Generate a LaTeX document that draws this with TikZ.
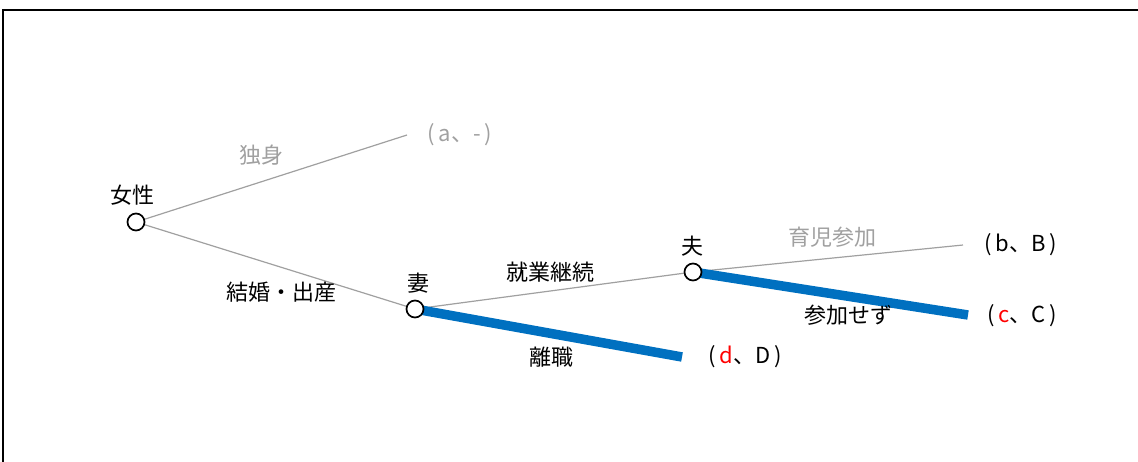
\documentclass[tikz,border=0pt]{standalone}
\usepackage{fontspec}
\setmainfont{Noto Sans CJK JP}
\usetikzlibrary{backgrounds}
\definecolor{myblue}{RGB}{0,112,192}
\definecolor{lgray}{RGB}{160,160,160}
\definecolor{tgray}{RGB}{160,160,160}
\definecolor{myred}{RGB}{255,0,0}
\begin{document}
\begin{tikzpicture}[x=1pt,y=-1pt,
  state/.style={circle, draw=black, line width=1.7pt, fill=white, minimum size=17pt, inner sep=0pt},
  thinline/.style={draw=lgray, line width=1.2pt},
  thickline/.style={draw=myblue, line width=9.5pt},
  lbl/.style={font=\fontsize{22}{26}\selectfont, inner sep=0pt, text=black},
  glbl/.style={lbl, text=tgray}]
\useasboundingbox (0,0) rectangle (1138,461);
\draw[line width=2pt] (3,462) -- (3,10) -- (1139,10);
% state nodes
\node[state] (w) at (136,222) {};
\node[state] (t) at (415,309) {};
\node[state] (h) at (693,272) {};
% end points
\coordinate (ea) at (407,135);
\coordinate (eb) at (963,245);
\coordinate (ec) at (968,315);
\coordinate (ed) at (682,357);
% connectors
\begin{scope}[on background layer]
\draw[thinline] (w) -- (ea);
\draw[thinline] (w) -- (t);
\draw[thinline] (t) -- (h);
\draw[thinline] (h.center) -- (eb);
\draw[thickline] (t.center) -- (ed);
\draw[thickline] (h.center) -- (ec);
\end{scope}
% labels
\node[lbl] (lw) at (132,195) {女性};
\node[lbl] (lt) at (418,283) {妻};
\node[lbl] (lh) at (692,246) {夫};
\node[glbl] (l1) at (261,155) {独身};
\node[lbl] (l2) at (281,292) {結婚・出産};
\node[lbl] (l3) at (550,272) {就業継続};
\node[lbl] (l4) at (551,357) {離職};
\node[glbl] (l5) at (832,237) {育児参加};
\node[lbl] (l6) at (848,315) {参加せず};
\node[glbl] (ra) at (460,135) {(\,a、-\,)};
\node[lbl] (rb) at (1021,245) {(\,b、B\,)};
\node[lbl] (rc) at (1022,316) {(\,\textcolor{myred}{c}、C\,)};
\node[lbl] (rd) at (745,357) {(\,\textcolor{myred}{d}、D\,)};
\end{tikzpicture}
\end{document}
